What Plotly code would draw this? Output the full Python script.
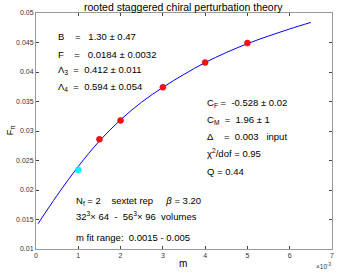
import plotly.graph_objects as go

# data (m in units of 1e-3 for the axis display)
m_points = [1.5, 2.0, 3.0, 4.0, 5.0]
f_points = [0.0286, 0.0318, 0.0374, 0.0416, 0.0449]
m_extra = [1.0]
f_extra = [0.0234]
m_curve = [0.05, 0.5, 1.0, 1.5, 2.0, 2.5, 3.0, 3.5, 4.0, 4.5, 5.0, 5.5, 6.0, 6.5]
f_curve = [0.0143, 0.0191, 0.0240, 0.0283, 0.0319, 0.0349, 0.0374, 0.0396, 0.0416, 0.0433, 0.0448, 0.0461, 0.0473, 0.0484]
x_ticks = [0, 1, 2, 3, 4, 5, 6, 7]
y_ticks = [0.01, 0.015, 0.02, 0.025, 0.03, 0.035, 0.04, 0.045, 0.05]
y_ticklabels = ["0.01", "0.015", "0.02", "0.025", "0.03", "0.035", "0.04", "0.045", "0.05"]

W, H = 338, 273
L, R, T, B = 36, 4, 12.5, 23.5
pw, ph = W - L - R, H - T - B

def px(x):
    return (x - L) / pw

def py(y):
    return 1 - (y - T) / ph

FONT = "Liberation Sans, Arial, sans-serif"

fig = go.Figure()
fig.add_trace(go.Scatter(x=m_curve, y=f_curve, mode="lines", line=dict(color="#0000ff", width=1, shape="spline"), showlegend=False))
fig.add_trace(go.Scatter(x=m_points, y=f_points, mode="markers", marker=dict(color="#ff1010", size=6, line=dict(color="#cc0000", width=0.5)), showlegend=False))
fig.add_trace(go.Scatter(x=m_extra, y=f_extra, mode="markers", marker=dict(color="#00ffff", size=6, line=dict(color="#00cccc", width=0.5)), showlegend=False))

axis_common = dict(showgrid=False, zeroline=False, ticks="inside", ticklen=3, tickcolor="#444",
                   linecolor="#999", linewidth=1, mirror="ticks", showline=True,
                   tickfont=dict(family=FONT, size=7, color="#333"))
fig.update_xaxes(range=[0, 7], tickvals=x_ticks, ticktext=[str(v) for v in x_ticks], **axis_common)
fig.update_yaxes(range=[0.01, 0.05], tickvals=y_ticks, ticktext=y_ticklabels, **axis_common)

anns = []
def txt(x, y, s, size=9.5, anchor="left"):
    s = s.replace("  ", "&nbsp;&nbsp;")
    anns.append(dict(x=px(x), y=py(y), xref="paper", yref="paper", text=s, showarrow=False,
                     xanchor=anchor, yanchor="middle", font=dict(family=FONT, size=size, color="black")))

txt(56, 36, "B    =   1.30 ± 0.47")
txt(56, 54, "F    =   0.0184 ± 0.0032")
txt(56, 70, "Λ<sub>3</sub>  =  0.412 ± 0.011")
txt(56, 87, "Λ<sub>4</sub>  =  0.594 ± 0.054")
txt(206, 103, "C<sub>F</sub> =  -0.528 ± 0.02")
txt(206, 120, "C<sub>M</sub>  =  1.96 ± 1")
txt(206, 137, "Δ    =  0.003   input")
txt(206, 153, "χ<sup>2</sup>/dof = 0.95")
txt(206, 172, "Q = 0.44")
txt(74, 201, "N<sub>f</sub> = 2    sextet rep     <i>β</i> = 3.20")
txt(74, 216, "32<sup>3</sup>× 64  -  56<sup>3</sup>× 96  volumes")
txt(74, 238, "m fit range:  0.0015 - 0.005")

fig.update_layout(
    width=W, height=H, margin=dict(l=L, r=R, t=T, b=B),
    paper_bgcolor="white", plot_bgcolor="white",
    annotations=anns + [
        dict(x=px(184), y=py(6), xref="paper", yref="paper", xanchor="center", yanchor="middle",
             text="rooted staggered chiral perturbation theory", showarrow=False,
             font=dict(family=FONT, size=10.5, color="black")),
        dict(x=px(184), y=py(264), xref="paper", yref="paper", xanchor="center", yanchor="middle",
             text="m", showarrow=False, font=dict(family=FONT, size=10, color="black")),
        dict(x=px(10), y=py(130), xref="paper", yref="paper", xanchor="center", yanchor="middle",
             text="F<sub>π</sub>", textangle=-90, showarrow=False, font=dict(family=FONT, size=9, color="black")),
        dict(x=px(336), y=py(267), xref="paper", yref="paper", xanchor="right", yanchor="middle",
             text="×10<sup>-3</sup>", showarrow=False, font=dict(family=FONT, size=6.5, color="#333")),
    ],
)
fig.write_html("out.html", config={"displayModeBar": False},
               post_script="document.body.style.margin='0';document.body.style.overflow='hidden';")
